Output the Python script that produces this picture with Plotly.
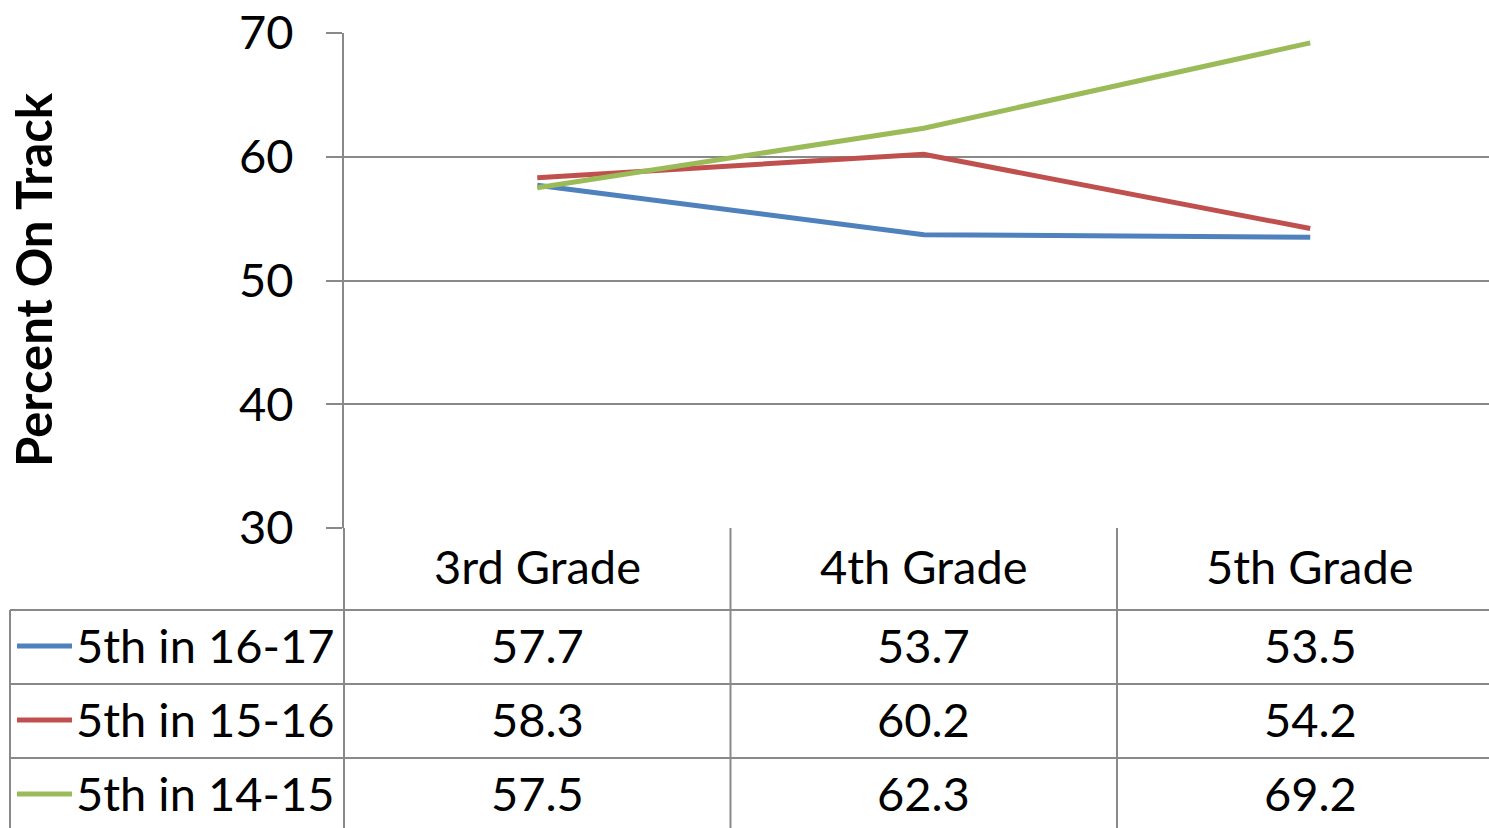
import plotly.graph_objects as go

categories = ["3rd Grade", "4th Grade", "5th Grade"]
series_names = ["5th in 16-17", "5th in 15-16", "5th in 14-15"]
vals_1617 = [57.7, 53.7, 53.5]
vals_1516 = [58.3, 60.2, 54.2]
vals_1415 = [57.5, 62.3, 69.2]
colors = ["#4F81BD", "#C0504D", "#9BBB59"]
y_ticks = [30, 40, 50, 60, 70]

W, H = 1489, 828
FONT = "Lato"
FS = 47
GRID = "#898989"


def py(p):
    return 1 - p / H


def px(p):
    return p / W


series = [vals_1617, vals_1516, vals_1415]
xpos = list(range(len(categories)))

fig = go.Figure()
for name, vals, c in zip(series_names, series, colors):
    fig.add_trace(go.Scatter(x=xpos, y=vals, mode="lines", name=name,
                             line=dict(color=c, width=5), showlegend=False))

shapes = []
ann = []
# table horizontal lines
for yy in [610, 684, 758]:
    shapes.append(dict(type="line", xref="paper", yref="paper", x0=px(10), x1=1,
                       y0=py(yy), y1=py(yy), line=dict(color=GRID, width=2)))
# left border of legend column
shapes.append(dict(type="line", xref="paper", yref="paper", x0=px(10), x1=px(10),
                   y0=py(610), y1=0, line=dict(color=GRID, width=2)))
# axis line continued down through table
shapes.append(dict(type="line", xref="paper", yref="paper", x0=px(344), x1=px(344),
                   y0=py(528), y1=0, line=dict(color=GRID, width=2)))
# column separators
for i in range(len(categories) - 1):
    shapes.append(dict(type="line", xref="x", yref="paper", x0=i + 0.5, x1=i + 0.5,
                       y0=py(528), y1=0, line=dict(color=GRID, width=2)))

row_centers = [645, 719, 793]
# header
for i, cat in enumerate(categories):
    ann.append(dict(x=i, y=py(566), xref="x", yref="paper", text=cat, showarrow=False,
                    xanchor="center", yanchor="middle", font=dict(family=FONT, size=FS, color="black")))
for r, (name, vals, c) in enumerate(zip(series_names, series, colors)):
    yc = row_centers[r]
    shapes.append(dict(type="line", xref="paper", yref="paper", x0=px(17), x1=px(72),
                       y0=py(yc + 1), y1=py(yc + 1), line=dict(color=c, width=5)))
    ann.append(dict(x=px(74), y=py(yc), xref="paper", yref="paper", text=name, showarrow=False,
                    xanchor="left", yanchor="middle", font=dict(family=FONT, size=FS, color="black")))
    for i, v in enumerate(vals):
        ann.append(dict(x=i, y=py(yc), xref="x", yref="paper", text=f"{v:.1f}", showarrow=False,
                        xanchor="center", yanchor="middle", font=dict(family=FONT, size=FS, color="black")))

ann.append(dict(x=px(33), y=py(280), xref="paper", yref="paper", text="<b>Percent On Track</b>",
                showarrow=False, textangle=-90, xanchor="center", yanchor="middle",
                font=dict(family=FONT, size=49, color="black")))

fig.update_layout(
    width=W, height=H,
    margin=dict(l=0, r=0, t=0, b=0, pad=0, autoexpand=False),
    paper_bgcolor="white", plot_bgcolor="white",
    shapes=shapes, annotations=ann,
    xaxis=dict(domain=[px(344), 1], range=[-0.5, 2.4625], showgrid=False, zeroline=False,
               showticklabels=False, showline=False, ticks="", automargin=False),
    yaxis=dict(domain=[py(528), py(33)], range=[30, 70], tickvals=y_ticks,
               showgrid=True, gridcolor=GRID, gridwidth=2, zeroline=False,
               showline=True, linecolor=GRID, linewidth=2,
               ticks="outside", ticklen=16, tickcolor=GRID, tickwidth=2,
               ticklabelstandoff=23, automargin=False,
               tickfont=dict(family=FONT, size=FS, color="black")),
)

fig.write_html("out.html", config={"displayModeBar": False},
               post_script="document.body.style.margin='0';document.body.style.overflow='hidden';")
